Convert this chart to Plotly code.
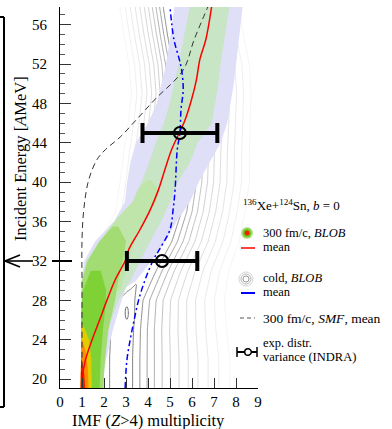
import numpy as np
import plotly.graph_objects as go

# ---------------- data ----------------
# mean curves (x = IMF multiplicity, E = incident energy)
red_E = [19.1, 19.9, 21.9, 24.0, 26.0, 28.0, 30.1, 32.1, 33.1, 35.2, 37.2, 39.2, 41.3, 43.3, 45.0, 46.3, 48.4, 50.4, 52.5, 54.5, 57.8]
red_x = [1.0, 1.0, 1.15, 1.46, 1.8, 2.13, 2.51, 2.98, 3.11, 3.64, 4.1, 4.47, 4.77, 5.07, 5.42, 5.68, 5.98, 6.2, 6.36, 6.63, 6.89]

blue_E = [19.1, 21.9, 24.0, 26.0, 28.0, 30.1, 32.1, 33.1, 35.2, 37.2, 39.2, 43.3, 45.0, 47.4, 49.4, 51.4, 52.5, 54.5, 57.8]
blue_x = [2.96, 3.04, 3.19, 3.37, 3.57, 3.87, 4.24, 4.5, 5.0, 5.14, 5.23, 5.33, 5.45, 5.5, 5.6, 5.53, 5.42, 5.18, 5.0]

smf_E = [19.1, 25.0, 30.0, 34.1, 37.2, 40.2, 42.3, 43.3, 44.6, 46.3, 48.4, 51.4, 54.5, 57.8]
smf_x = [1.0, 1.0, 1.0, 1.0, 1.08, 1.3, 1.68, 2.06, 2.74, 3.45, 4.31, 5.6, 6.1, 6.72]

# INDRA experimental points
exp_E = [32, 45]
exp_mean = [4.64, 5.45]
exp_var = [1.6, 1.7]

# 300 fm/c BLOB distribution: colour bands (left / right edges vs energy)
lav_E = [19.1, 22, 25, 28, 29.3, 30, 32, 34, 36, 38, 40, 42, 44, 46, 48, 50, 52, 55, 57.8]
lav_left = [0.97, 0.97, 0.97, 0.97, 0.97, 0.98, 1.1, 1.6, 2.45, 2.95, 3.05, 3.2, 3.45, 4.0, 4.4, 4.62, 4.82, 5.03, 5.2]
lav_right = [1.9, 2.1, 2.4, 2.8, 3.0, 3.45, 4.15, 4.8, 5.3, 5.9, 6.3, 6.8, 7.3, 7.6, 7.75, 7.9, 8.0, 8.15, 8.3]

pg_E = [19.1, 22, 25, 28, 29.3, 30, 32, 34, 36, 38, 40, 42, 44, 46, 48, 50, 52, 55, 57.8]
pg_left = [0.97, 0.97, 0.97, 0.97, 0.97, 0.98, 1.2, 1.8, 2.5, 3.3, 3.7, 4.05, 4.35, 4.72, 4.98, 5.2, 5.4, 5.65, 5.9]
pg_right = [1.83, 1.95, 2.15, 2.65, 3.0, 3.2, 3.64, 4.1, 4.6, 5.0, 5.35, 5.9, 6.25, 6.9, 7.05, 7.2, 7.3, 7.5, 7.7]

lime_E = [29, 31, 33, 35, 36.5, 38, 39.3, 40.2]
lime_left = [1.0, 1.15, 1.55, 2.15, 2.65, 3.3, 3.55, 3.95]
lime_right = [2.75, 3.0, 3.25, 3.55, 3.9, 4.4, 4.45, 4.15]

bg_E = [19.1, 22, 25, 28, 30, 32, 34, 35.5]
bg_left = [0.97, 0.97, 0.97, 0.97, 1.0, 1.25, 1.8, 2.4]
bg_right = [1.95, 2.05, 2.2, 2.5, 2.65, 2.85, 3.0, 2.65]

sg_E = [19.1, 22, 25, 27, 29, 31]
sg_left = [0.95, 0.95, 0.95, 0.97, 1.05, 1.4]
sg_right = [1.8, 1.85, 1.95, 2.05, 2.1, 1.85]

yel_E = [19.1, 22, 24, 25.5]
yel_left = [0.94, 0.94, 0.95, 0.97]
yel_right = [1.45, 1.42, 1.32, 1.05]

org_E = [19.1, 21, 23, 24]
org_left = [0.94, 0.94, 0.95, 0.97]
org_right = [1.3, 1.27, 1.15, 1.0]

redc_E = [19.1, 20.5, 22]
redc_left = [0.93, 0.94, 0.96]
redc_right = [1.15, 1.1, 0.99]

# cold BLOB distribution (grey contours): ridge, height and spread vs energy
cold_E = [19.1, 22, 25, 28, 31, 34, 37, 40, 43, 46, 49, 52, 55, 57.8]
cold_center = [2.75, 2.75, 2.8, 3.0, 3.85, 4.6, 5.05, 5.25, 5.33, 5.45, 5.55, 5.45, 5.2, 5.0]
cold_amp = [12.0, 12.0, 12.05, 11.9, 11.2, 11.25, 11.3, 11.3, 11.3, 11.3, 11.25, 11.3, 11.25, 11.2]
cold_sL = [1.0, 1.0, 0.95, 0.88, 0.75, 0.65, 0.6, 0.6, 0.58, 0.56, 0.55, 0.55, 0.55, 0.55]
cold_sR = [1.1, 1.1, 1.05, 1.0, 0.92, 0.85, 0.8, 0.8, 0.78, 0.76, 0.75, 0.75, 0.75, 0.75]
cold_offsets = [0, 0.5, 0.8, 1.1, 1.4, 1.72, 2.06, 2.42, 2.8, 3.2, 3.62, 4.06, 4.52, 9.0]
cold_drop = [0, 0.5, 1.5, 2.5, 3.5, 4.5, 5.5, 6.5, 7.5, 8.5, 9.5, 10.5, 11.5, 21.2]
peak_x = [3.05, 5.33, 5.36]
peak_E = [26.7, 42.1, 53.1]
peak_h = [0.85, 0.45, 0.45]
peak_sx = [0.1, 0.13, 0.13]
peak_sE = [0.9, 1.0, 0.9]

x_ticks = [0, 1, 2, 3, 4, 5, 6, 7, 8, 9]
y_ticks = [20, 24, 28, 32, 36, 40, 44, 48, 52, 56]
x_range = [0, 9]
y_range = [19.1, 57.8]

# ---------------- figure ----------------
SERIF = "Liberation Serif"
W, H = 392, 429
PL, PR, PT, PB = 60, 258, 7, 388


def fx(p):
    return (p - PL) / (PR - PL)


def fy(p):
    return (PB - p) / (PB - PT)


fig = go.Figure()


def band(E, left, right, color):
    xs = list(left) + list(right)[::-1]
    ys = list(E) + list(E)[::-1]
    fig.add_trace(go.Scatter(x=xs, y=ys, mode="lines", fill="toself",
                             fillcolor=color, line=dict(width=0, color=color),
                             hoverinfo="skip"))


band(lav_E, lav_left, lav_right, "#dfdff8")
band(pg_E, pg_left, pg_right, "#c8e5c6")
band(lime_E, lime_left, lime_right, "#c0e5aa")
band(bg_E, bg_left, bg_right, "#a3dc72")
band(sg_E, sg_left, sg_right, "#7ed236")
band(yel_E, yel_left, yel_right, "#e2cc00")
band(org_E, org_left, org_right, "#ff8c00")
band(redc_E, redc_left, redc_right, "#f02000")

# grey contour field of the cold distribution
xg = np.linspace(1.0, 9.0, 401)
Eg = np.linspace(y_range[0], y_range[1], 260)
XX, EE = np.meshgrid(xg, Eg)
cen = np.interp(EE, cold_E, cold_center)
amp = np.interp(EE, cold_E, cold_amp)
sL = np.interp(EE, cold_E, cold_sL)
sR = np.interp(EE, cold_E, cold_sR)
u = XX - cen
d = np.where(u < 0, -u / sL, u / sR)
Z = amp - np.interp(d, cold_offsets, cold_drop)
for px_, pe_, ph_, psx_, pse_ in zip(peak_x, peak_E, peak_h, peak_sx, peak_sE):
    Z = Z + ph_ * np.exp(-0.5 * ((XX - px_) / psx_) ** 2 - 0.5 * ((EE - pe_) / pse_) ** 2)

fig.add_trace(go.Contour(x=xg, y=Eg, z=Z, showscale=False, hoverinfo="skip",
                         contours=dict(start=0.5, end=12.5, size=1, coloring="lines"),
                         colorscale=[[0, "#f0f0f0"], [0.5, "#bdbdbd"], [1, "#3c3c3c"]],
                         zmin=0, zmax=12.5, line=dict(width=0.75, smoothing=1)))

# mean curves
fig.add_trace(go.Scatter(x=smf_x, y=smf_E, mode="lines", line_shape="spline",
                         line=dict(color="#333333", width=1, dash="6px,4px"), hoverinfo="skip"))
fig.add_trace(go.Scatter(x=red_x, y=red_E, mode="lines", line_shape="spline",
                         line=dict(color="#ff0000", width=1.5), hoverinfo="skip"))
fig.add_trace(go.Scatter(x=blue_x, y=blue_E, mode="lines", line_shape="spline",
                         line=dict(color="#0000ff", width=1.5, dash="6px,3px,2px,3px"), hoverinfo="skip"))

# experimental points
fig.add_trace(go.Scatter(x=exp_mean, y=exp_E, mode="markers",
                         marker=dict(symbol="circle-open", size=12, color="black", line=dict(width=2)),
                         error_x=dict(type="data", array=exp_var, color="black", thickness=4, width=10),
                         hoverinfo="skip"))

axis_font = dict(family=SERIF, size=15, color="black")
fig.update_layout(
    width=W, height=H, showlegend=False,
    margin=dict(l=PL, r=W - PR, t=PT, b=H - PB, pad=0, autoexpand=False),
    plot_bgcolor="white", paper_bgcolor="white",
    xaxis=dict(range=x_range, tickvals=x_ticks, ticks="inside", ticklen=10, tickcolor="#333",
               tickwidth=1, showline=True, linecolor="black", linewidth=1, showgrid=False,
               zeroline=False, tickfont=axis_font, ticklabelstandoff=0, automargin=False),
    yaxis=dict(range=y_range, tickvals=y_ticks, ticks="inside", ticklen=11, tickcolor="#333",
               tickwidth=1, showline=True, linecolor="black", linewidth=1, showgrid=False,
               zeroline=False, tickfont=axis_font, ticklabelstandoff=9, automargin=False,
               minor=dict(dtick=1, tick0=20, ticks="inside", ticklen=5, tickcolor="#555", tickwidth=1)),
)

shapes = []
# left bracket
shapes.append(dict(type="line", xref="paper", yref="paper", x0=fx(4), x1=fx(4), y0=fy(17), y1=fy(407),
                   line=dict(color="black", width=2)))
shapes.append(dict(type="line", xref="paper", yref="paper", x0=fx(0), x1=fx(4), y0=fy(17), y1=fy(17),
                   line=dict(color="black", width=2)))
shapes.append(dict(type="line", xref="paper", yref="paper", x0=fx(0), x1=fx(4), y0=fy(407), y1=fy(407),
                   line=dict(color="black", width=2)))
# arrow at 32 AMeV
arrow_E = exp_E[0]
shapes.append(dict(type="line", xref="paper", yref="y", x0=fx(5), x1=fx(33), y0=arrow_E, y1=arrow_E,
                   line=dict(color="black", width=1.6)))
shapes.append(dict(type="line", xref="paper", yref="y", x0=fx(5), x1=fx(20), y0=arrow_E, y1=arrow_E + 0.62,
                   line=dict(color="black", width=1.6)))
shapes.append(dict(type="line", xref="paper", yref="y", x0=fx(5), x1=fx(20), y0=arrow_E, y1=arrow_E - 0.62,
                   line=dict(color="black", width=1.6)))
shapes.append(dict(type="line", xref="paper", yref="y", x0=fx(52), x1=fx(72), y0=arrow_E, y1=arrow_E,
                   line=dict(color="black", width=2)))


# legend icons
def circ(cx, cy, r, fill, line_color="rgba(0,0,0,0)", lw=0):
    return dict(type="circle", xref="paper", yref="paper", x0=fx(cx - r), x1=fx(cx + r),
                y0=fy(cy + r), y1=fy(cy - r), fillcolor=fill, line=dict(color=line_color, width=lw))


shapes.append(circ(247, 233, 6, "#b8e296"))
shapes.append(circ(247, 233, 4.5, "#6dcc1c"))
shapes.append(circ(247, 233, 2.5, "#f02000"))
shapes.append(dict(type="line", xref="paper", yref="paper", x0=fx(241), x1=fx(255), y0=fy(248), y1=fy(248),
                   line=dict(color="#ff0000", width=1.5)))
for r, c in [(7, "#d5d5d5"), (5, "#b8b8b8"), (3, "#999999")]:
    shapes.append(circ(246, 279, r, "rgba(0,0,0,0)", c, 1))
shapes.append(dict(type="line", xref="paper", yref="paper", x0=fx(241), x1=fx(255), y0=fy(293), y1=fy(293),
                   line=dict(color="#0000ff", width=2)))
shapes.append(dict(type="line", xref="paper", yref="paper", x0=fx(240), x1=fx(255), y0=fy(318), y1=fy(318),
                   line=dict(color="#555", width=1, dash="4px,3px")))
shapes.append(dict(type="line", xref="paper", yref="paper", x0=fx(237), x1=fx(257), y0=fy(352), y1=fy(352),
                   line=dict(color="black", width=2)))
for xc in (237, 257):
    shapes.append(dict(type="line", xref="paper", yref="paper", x0=fx(xc), x1=fx(xc), y0=fy(347), y1=fy(357),
                       line=dict(color="black", width=1.5)))
shapes.append(circ(248, 352, 3.3, "white", "black", 1.5))
fig.update_layout(shapes=shapes)

tf = dict(family=SERIF, size=13, color="black")
ann = []


def txt(x, y, s, size=13, **kw):
    f = dict(tf)
    f["size"] = size
    ann.append(dict(x=fx(x), y=fy(y), xref="paper", yref="paper", text=s, showarrow=False,
                    xanchor=kw.get("xanchor", "left"), yanchor="middle", font=f,
                    textangle=kw.get("textangle", 0)))


txt(241, 205, "<sup>136</sup>Xe+<sup>124</sup>Sn, <i>b</i> = 0")
txt(261, 232.5, "300 fm/c, <i>BLOB</i>", size=12.5)
txt(261, 246.5, "mean", size=12.5)
txt(261, 277.5, "cold, <i>BLOB</i>", size=12.5)
txt(261, 291.5, "mean", size=12.5)
txt(261, 318, "300 fm/c, <i>SMF</i>, mean", size=13.5)
txt(261, 342.5, "exp. distr.", size=12.5)
txt(261, 357, "variance (INDRA)", size=12.5)
txt(148, 420, "IMF (<i>Z</i>>4) multiplicity", size=16.5, xanchor="center")
txt(20, 159, "Incident Energy [<i>A</i>MeV]", size=16.5, xanchor="center", textangle=-90)
fig.update_layout(annotations=ann)

fig.write_html("out.html", config={"displayModeBar": False},
               post_script="document.body.style.margin='0';document.body.style.padding='0';")
